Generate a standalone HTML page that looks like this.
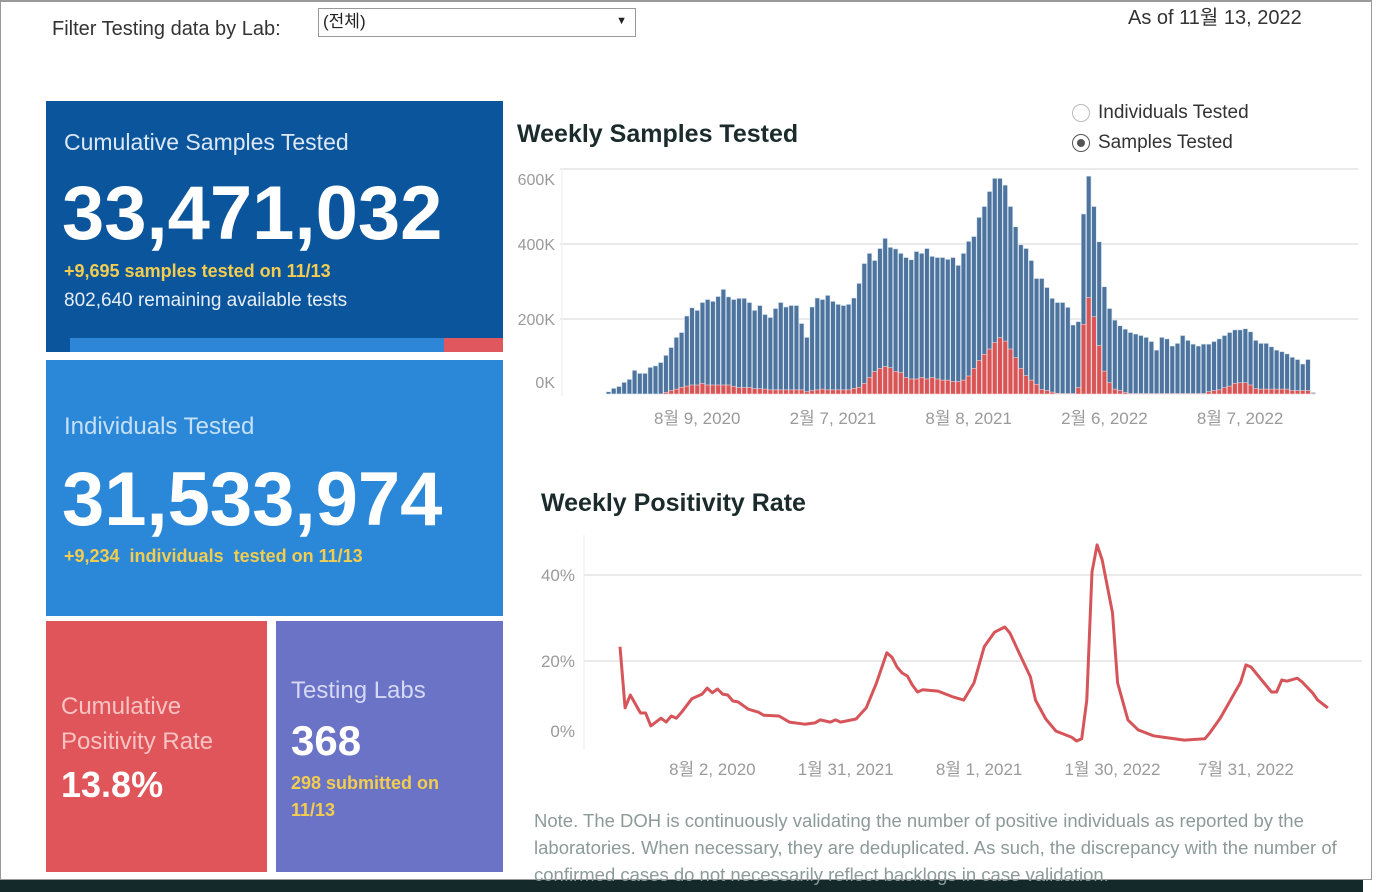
<!DOCTYPE html>
<html><head><meta charset="utf-8">
<style>
body{margin:0;width:1376px;height:892px;overflow:hidden;background:#fff;font-family:"Liberation Sans","Noto Sans CJK KR",sans-serif;position:relative}
.a{position:absolute;white-space:nowrap;line-height:1}
.p{position:absolute}
</style></head><body>
<div class="p" style="left:0;top:0;width:1372px;height:880px;border:1px solid #9a9a9a;border-top:2px solid #9a9a9a;box-sizing:border-box"></div>
<div class="p" style="left:0;top:880px;width:1363px;height:12px;background:#13292a"></div>

<div class="a" style="left:52px;top:19px;font-size:20px;color:#333">Filter Testing data by Lab:</div>
<div class="p" style="left:318px;top:8px;width:318px;height:29px;border:1px solid #999;box-sizing:border-box;background:#fff">
 <span class="a" style="left:4px;top:4px;font-size:17px;color:#222">(전체)</span>
 <span class="a" style="right:8px;top:7px;font-size:11px;color:#222">▼</span>
</div>
<div class="a" style="left:1128px;top:8px;font-size:20px;color:#333">As of 11월 13, 2022</div>

<div class="p" style="left:46px;top:101px;width:457px;height:251px;background:#0b559c">
 <div class="a" style="left:18px;top:30px;font-size:23px;color:#dce8f5">Cumulative Samples Tested</div>
 <div class="a" style="left:16px;top:75px;font-size:76px;font-weight:bold;color:#fff">33,471,032</div>
 <div class="a" style="left:18px;top:161px;font-size:18px;font-weight:bold;color:#f2cd4f">+9,695 samples tested on 11/13</div>
 <div class="a" style="left:18px;top:190px;font-size:19px;color:#e6eef8">802,640 remaining available tests</div>
 <div class="p" style="left:24px;top:237px;width:374px;height:14px;background:#2e86d8"></div>
 <div class="p" style="left:398px;top:237px;width:59px;height:14px;background:#e0575d"></div>
</div>
<div class="p" style="left:46px;top:360px;width:457px;height:256px;background:#2b88d8">
 <div class="a" style="left:18px;top:55px;font-size:24px;color:#c6e0f7">Individuals Tested</div>
 <div class="a" style="left:16px;top:102px;font-size:76px;font-weight:bold;color:#fff">31,533,974</div>
 <div class="a" style="left:18px;top:187px;font-size:18px;font-weight:bold;color:#f2cd4f">+9,234&nbsp; individuals&nbsp; tested on 11/13</div>
</div>
<div class="p" style="left:46px;top:621px;width:221px;height:251px;background:#e0555a">
 <div class="a" style="left:15px;top:68px;font-size:24px;color:#f7c3c3;line-height:35px;white-space:normal;width:200px">Cumulative Positivity Rate</div>
 <div class="a" style="left:15px;top:146px;font-size:36px;font-weight:bold;color:#fff">13.8%</div>
</div>
<div class="p" style="left:276px;top:621px;width:227px;height:251px;background:#6b73c7">
 <div class="a" style="left:15px;top:58px;font-size:24px;color:#d6d9f3">Testing Labs</div>
 <div class="a" style="left:15px;top:99px;font-size:42px;font-weight:bold;color:#fff">368</div>
 <div class="a" style="left:15px;top:149px;font-size:18px;font-weight:bold;color:#f2cd4f;line-height:27px">298 submitted on<br>11/13</div>
</div>

<div class="a" style="left:517px;top:122px;font-size:25px;font-weight:bold;color:#1b2b2b">Weekly Samples Tested</div>
<div class="a" style="left:541px;top:491px;font-size:25px;font-weight:bold;color:#1b2b2b">Weekly Positivity Rate</div>

<div class="p" style="left:1072px;top:104px;width:18px;height:18px;border:1px solid #bbb;border-radius:50%;box-sizing:border-box"></div>
<div class="a" style="left:1098px;top:103px;font-size:19px;color:#333">Individuals Tested</div>
<div class="p" style="left:1072px;top:134px;width:18px;height:18px;border:1px solid #555;border-radius:50%;box-sizing:border-box"><div style="position:absolute;left:4px;top:4px;width:8px;height:8px;border-radius:50%;background:#555"></div></div>
<div class="a" style="left:1098px;top:133px;font-size:19px;color:#333">Samples Tested</div>

<div class="a" style="left:534px;top:807px;font-size:18.5px;color:#8c9a98;line-height:27px">Note. The DOH is continuously validating the number of positive individuals as reported by the<br>laboratories. When necessary, they are deduplicated. As such, the discrepancy with the number of<br>confirmed cases do not necessarily reflect backlogs in case validation.</div>

<svg id="charts" class="p" style="left:0;top:0" width="1376" height="892"></svg>

<script>
const totalSamples=[6,15,20,31,39,63,55,55,71,75,84,103,124,151,164,208,230,223,244,252,247,260,279,259,252,255,255,244,223,236,212,204,228,244,232,236,236,188,151,232,256,252,263,247,239,236,239,256,295,348,375,356,388,415,391,387,375,364,358,380,375,388,367,364,364,359,364,343,375,407,420,471,500,540,575,575,557,500,446,398,388,356,308,308,284,255,244,244,231,184,193,480,581,500,406,286,228,197,182,173,164,160,156,151,140,117,151,147,128,135,156,143,133,128,133,133,140,147,156,164,171,171,174,166,143,135,135,126,117,113,107,98,92,80,92,4];
const positiveSamples=[0,0,0,0,0,0,0,0,0,0,0,4,9,13,18,21,24,24,28,24,24,24,24,24,20,17,17,17,14,14,13,11,11,11,11,11,11,11,6,9,11,13,11,11,11,11,11,15,18,28,44,60,68,73,70,60,57,44,40,40,44,40,44,40,37,37,33,33,37,48,68,89,106,120,137,150,141,120,97,68,49,37,26,12,9,5,2,1,1,1,17,186,257,206,129,61,30,13,9,4,1,1,1,1,1,1,1,1,1,1,1,1,1,1,1,6,9,11,17,21,28,30,30,24,14,13,13,13,13,13,13,9,9,9,9,1];
const sampleTickWeeks=[17,43,69,95,121];
const sampleTickLabels=["8월 9, 2020","2월 7, 2021","8월 8, 2021","2월 6, 2022","8월 7, 2022"];
const sampleYTicks=[0,200,400,600];
const sampleYLabels=["0K","200K","400K","600K"];

const rateWeeks=[0,1,2,4,5,6,8,9,10,11,12,14,16,17,18,19,20,21,22,23,25,27,28,31,33,36,38,39,41,42,43,46,48,50,52,53,54,55,56,57,58,59,62,65,67,69,71,73,75,76,78,80,81,83,85,88,89,90,91,92,93,94,96,97,99,101,104,107,110,114,115,117,119,121,122,123,127,128,129,130,132,133,135,136,138];
const rateValues=[23.3,9.1,12.1,7.9,7.9,4.9,6.7,5.8,7.2,6.7,8.1,11.2,12.3,13.7,12.6,13.5,12.3,12.1,10.7,10.5,8.8,8.1,7.4,7.2,5.8,5.3,5.6,6.3,5.8,6.3,5.8,6.5,9.1,14.9,21.9,20.9,18.6,17.2,16.5,14.4,12.8,13.3,13.0,11.6,10.9,14.9,23.3,26.7,27.9,26.5,21.4,16.3,10.9,6.5,3.7,2.3,1.4,1.9,10.9,40.7,47.0,43.5,31.2,14.9,6.3,4.0,2.6,2.1,1.6,1.9,3.3,6.7,10.9,15.1,19.1,18.6,12.8,12.8,15.6,15.3,16.0,15.1,12.6,10.9,9.1];
const rateTickWeeks=[18,44,70,96,122];
const rateTickLabels=["8월 2, 2020","1월 31, 2021","8월 1, 2021","1월 30, 2022","7월 31, 2022"];
const rateYTicks=[0,20,40];
const rateYLabels=["0%","20%","40%"];

const NS="http://www.w3.org/2000/svg";
const svg=document.getElementById('charts');
function mk(tag,attrs,parent){const e=document.createElementNS(NS,tag);for(const k in attrs)e.setAttribute(k,attrs[k]);(parent||svg).appendChild(e);return e;}
const FONT='"Liberation Sans","Noto Sans CJK KR",sans-serif';

const bx=i=>608.5+i*5.22;
const by=v=>394-v*0.375;
const g1=mk('g',{});


sampleYTicks.forEach((t,k)=>{
  if(t>0){const l=mk('line',{x1:560,x2:1358,y1:by(t),y2:by(t),stroke:'#e4e4e4','stroke-width':1.5},g1);
  
  }
  let yy=by(t)+6; if(t===600) yy=185; if(t===0) yy=388;
  const tx=mk('text',{x:555,y:yy,'text-anchor':'end','font-size':16,fill:'#9a9a9a','font-family':FONT},g1);
  tx.textContent=sampleYLabels[k];
  
  
});
mk('line',{x1:562,x2:562,y1:168,y2:396,stroke:'#eee','stroke-width':1},g1);
totalSamples.forEach((v,i)=>{
  const r=mk('rect',{x:bx(i)-2.3,y:by(v),width:4.6,height:v*0.375,fill:'#4e739c',stroke:'#d7e6f3','stroke-width':0.6},g1);
  
  
  const p=positiveSamples[i];
  if(p>0){const q=mk('rect',{x:bx(i)-2.3,y:by(p),width:4.6,height:p*0.375,fill:'#d95455',stroke:'#f5d6d6','stroke-width':0.6},g1);
  
  }
});
sampleTickWeeks.forEach((w,k)=>{
  const tx=mk('text',{x:bx(w),y:424,'text-anchor':'middle','font-size':17,fill:'#9a9a9a','font-family':FONT},g1);
  tx.textContent=sampleTickLabels[k];
  
  
});

const lx=w=>620+w*5.13;
const ly=v=>747-v*4.3;
const g2=mk('g',{});


mk('line',{x1:584,x2:584,y1:535,y2:750,stroke:'#eee','stroke-width':1},g2);
rateYTicks.forEach((t,k)=>{
  if(t>0){const l=mk('line',{x1:584,x2:1362,y1:ly(t),y2:ly(t),stroke:'#e4e4e4','stroke-width':1.5},g2);
  
  }
  const tx=mk('text',{x:575,y:(t===0?737:ly(t)+6),'text-anchor':'end','font-size':17,fill:'#9a9a9a','font-family':FONT},g2);
  tx.textContent=rateYLabels[k];
  
  
});
const pts=rateWeeks.map((w,i)=>lx(w).toFixed(1)+','+ly(rateValues[i]).toFixed(1)).join(' ');
const pl=mk('polyline',{points:pts,fill:'none',stroke:'#d6555a','stroke-width':3,'stroke-linejoin':'round'},g2);


rateTickWeeks.forEach((w,k)=>{
  const tx=mk('text',{x:lx(w),y:775,'text-anchor':'middle','font-size':17,fill:'#9a9a9a','font-family':FONT},g2);
  tx.textContent=rateTickLabels[k];
  
  
});
</script>
</body></html>
